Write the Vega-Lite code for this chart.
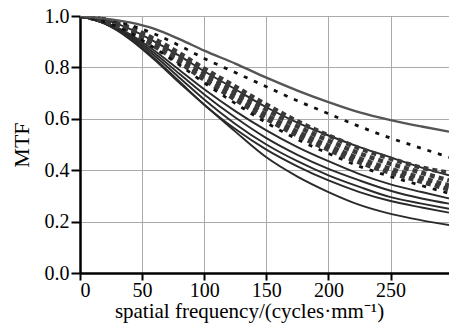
{
  "$schema": "https://vega.github.io/schema/vega-lite/v6.json",
  "width": 369,
  "height": 257,
  "autosize": "none",
  "padding": {"left": 80, "top": 16, "right": 0, "bottom": 54},
  "background": "white",
  "datasets": {
    "curves": [
      {"x": 0, "A": 1.0, "B": 1.0, "C": 1.0, "D1": 1.0, "D2": 1.0, "D3": 1.0, "D4": 1.0, "E": 1.0, "S1": 1.0, "S2": 1.0, "S3": 1.0, "S4": 1.0, "S5": 1.0},
      {"x": 20, "A": 0.99, "B": 0.99, "C": 0.985, "D1": 0.985, "D2": 0.983, "D3": 0.98, "D4": 0.978, "E": 0.978, "S1": 0.975, "S2": 0.973, "S3": 0.97, "S4": 0.97, "S5": 0.97},
      {"x": 40, "A": 0.975, "B": 0.965, "C": 0.95, "D1": 0.955, "D2": 0.948, "D3": 0.943, "D4": 0.938, "E": 0.935, "S1": 0.93, "S2": 0.925, "S3": 0.92, "S4": 0.915, "S5": 0.91},
      {"x": 60, "A": 0.95, "B": 0.93, "C": 0.9, "D1": 0.91, "D2": 0.9, "D3": 0.89, "D4": 0.882, "E": 0.875, "S1": 0.865, "S2": 0.855, "S3": 0.845, "S4": 0.835, "S5": 0.83},
      {"x": 80, "A": 0.91, "B": 0.885, "C": 0.845, "D1": 0.855, "D2": 0.843, "D3": 0.83, "D4": 0.82, "E": 0.81, "S1": 0.79, "S2": 0.775, "S3": 0.76, "S4": 0.745, "S5": 0.74},
      {"x": 100, "A": 0.865, "B": 0.835, "C": 0.785, "D1": 0.795, "D2": 0.78, "D3": 0.765, "D4": 0.752, "E": 0.74, "S1": 0.715, "S2": 0.695, "S3": 0.675, "S4": 0.655, "S5": 0.655},
      {"x": 125, "A": 0.815, "B": 0.78, "C": 0.715, "D1": 0.725, "D2": 0.705, "D3": 0.69, "D4": 0.675, "E": 0.66, "S1": 0.63, "S2": 0.605, "S3": 0.58, "S4": 0.56, "S5": 0.55},
      {"x": 150, "A": 0.76, "B": 0.725, "C": 0.645, "D1": 0.655, "D2": 0.635, "D3": 0.615, "D4": 0.6, "E": 0.585, "S1": 0.555, "S2": 0.525, "S3": 0.5, "S4": 0.48, "S5": 0.45},
      {"x": 175, "A": 0.71, "B": 0.67, "C": 0.585, "D1": 0.59, "D2": 0.57, "D3": 0.55, "D4": 0.535, "E": 0.52, "S1": 0.49, "S2": 0.46, "S3": 0.435, "S4": 0.415, "S5": 0.375},
      {"x": 200, "A": 0.665, "B": 0.62, "C": 0.535, "D1": 0.535, "D2": 0.515, "D3": 0.495, "D4": 0.48, "E": 0.465, "S1": 0.435, "S2": 0.405, "S3": 0.38, "S4": 0.36, "S5": 0.315},
      {"x": 225, "A": 0.625, "B": 0.57, "C": 0.49, "D1": 0.485, "D2": 0.465, "D3": 0.445, "D4": 0.43, "E": 0.415, "S1": 0.385, "S2": 0.36, "S3": 0.335, "S4": 0.315, "S5": 0.265},
      {"x": 250, "A": 0.595, "B": 0.525, "C": 0.45, "D1": 0.445, "D2": 0.425, "D3": 0.405, "D4": 0.39, "E": 0.375, "S1": 0.345, "S2": 0.32, "S3": 0.295, "S4": 0.28, "S5": 0.23},
      {"x": 275, "A": 0.57, "B": 0.485, "C": 0.41, "D1": 0.41, "D2": 0.39, "D3": 0.37, "D4": 0.355, "E": 0.34, "S1": 0.315, "S2": 0.29, "S3": 0.27, "S4": 0.255, "S5": 0.205},
      {"x": 297, "A": 0.55, "B": 0.45, "C": 0.38, "D1": 0.39, "D2": 0.36, "D3": 0.34, "D4": 0.325, "E": 0.31, "S1": 0.29, "S2": 0.27, "S3": 0.25, "S4": 0.235, "S5": 0.187}
    ],
    "kinds": [
      {"curve": "A", "kind": "grey solid"},
      {"curve": "B", "kind": "small dash"},
      {"curve": "C", "kind": "solid"},
      {"curve": "D1", "kind": "big dash"},
      {"curve": "D2", "kind": "big dash"},
      {"curve": "D3", "kind": "big dash"},
      {"curve": "D4", "kind": "big dash"},
      {"curve": "E", "kind": "small dash"},
      {"curve": "S1", "kind": "solid"},
      {"curve": "S2", "kind": "solid"},
      {"curve": "S3", "kind": "solid"},
      {"curve": "S4", "kind": "solid"},
      {"curve": "S5", "kind": "solid"}
    ]
  },
  "data": {"name": "curves"},
  "transform": [
    {"fold": ["A", "B", "C", "D1", "D2", "D3", "D4", "E", "S1", "S2", "S3", "S4", "S5"], "as": ["curve", "mtf"]},
    {"lookup": "curve", "from": {"data": {"name": "kinds"}, "key": "curve", "fields": ["kind"]}}
  ],
  "encoding": {
    "x": {
      "field": "x", "type": "quantitative",
      "scale": {"domain": [0, 297], "nice": false},
      "axis": {
        "values": [0, 50, 100, 150, 200, 250],
        "title": "spatial frequency/(cycles·mm⁻¹)",
        "titleX": 169,
        "titlePadding": 0,
        "titleFontSize": 21,
        "tickSize": 7,
        "labelPadding": 0
      }
    },
    "y": {
      "field": "mtf", "type": "quantitative",
      "scale": {"domain": [0, 1], "nice": false},
      "axis": {
        "values": [0, 0.2, 0.4, 0.6, 0.8, 1.0],
        "format": ".1f",
        "title": "MTF",
        "titleFontSize": 22,
        "tickSize": 9,
        "labelPadding": 2,
        "titlePadding": 11
      }
    },
    "detail": {"field": "curve"}
  },
  "layer": [
    {
      "transform": [{"filter": "datum.kind === 'solid'"}],
      "mark": {"type": "line", "interpolate": "monotone", "clip": true, "color": "#2a2a2a", "strokeWidth": 1.9}
    },
    {
      "transform": [{"filter": "datum.kind === 'big dash'"}],
      "mark": {"type": "line", "interpolate": "monotone", "clip": true, "color": "#3a3a3a", "strokeWidth": 4.5, "strokeDash": [5, 4]}
    },
    {
      "transform": [{"filter": "datum.kind === 'small dash'"}],
      "mark": {"type": "line", "interpolate": "monotone", "clip": true, "color": "#111111", "strokeWidth": 2.8, "strokeDash": [4, 7]}
    },
    {
      "transform": [{"filter": "datum.kind === 'grey solid'"}],
      "mark": {"type": "line", "interpolate": "monotone", "clip": true, "color": "#555555", "strokeWidth": 2.4}
    }
  ],
  "config": {
    "view": {"stroke": null},
    "axis": {
      "domainColor": "#000",
      "domainWidth": 2.5,
      "tickColor": "#000",
      "tickWidth": 2,
      "labelFont": "Liberation Serif",
      "labelFontSize": 20,
      "labelColor": "#000",
      "titleFont": "Liberation Serif",
      "titleFontSize": 20,
      "titleFontWeight": "normal",
      "titleColor": "#000",
      "gridColor": "#aaaaaa",
      "gridWidth": 1,
      "gridOpacity": 1
    }
  }
}
